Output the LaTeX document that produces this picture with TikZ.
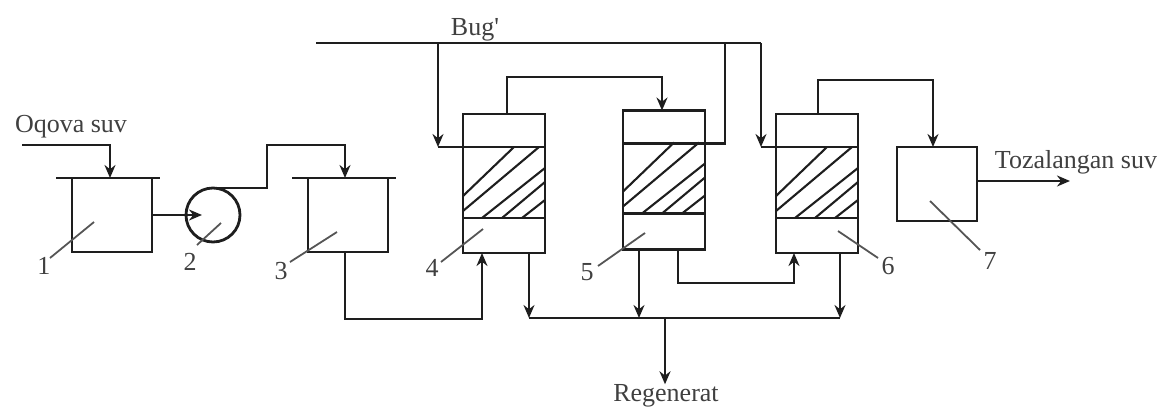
\documentclass[tikz,border=0pt]{standalone}
\usepackage{fontspec}
\setmainfont{Liberation Serif}
\usetikzlibrary{arrows.meta,positioning}
\definecolor{ink}{HTML}{1E1E1E}
\definecolor{soft}{HTML}{555555}
\tikzstyle{vessel} = [rectangle, minimum width=40pt, minimum height=37pt, inner sep=0pt, outer sep=0pt, draw=ink, line width=1.4pt]
\tikzstyle{pumpbody} = [circle, minimum size=27pt, inner sep=0pt, outer sep=0pt, draw=ink, line width=1.4pt]
\tikzstyle{section} = [rectangle, minimum width=41pt, inner sep=0pt, outer sep=0pt, draw=ink, line width=1.4pt]
\tikzstyle{pipe} = [draw=ink, line width=1.4pt]
\tikzstyle{arrow} = [pipe,-{Stealth[length=6.5pt,width=5.5pt]}]
\tikzstyle{hatching} = [draw=ink, line width=1.05pt]
\tikzstyle{leader} = [draw=soft, line width=.9pt]
\tikzstyle{caption} = [text=soft!75!black, inner sep=0pt, font=\fontsize{13}{15}\selectfont]

\begin{document}
\begin{tikzpicture}[x=.5pt,y=-.5pt]
    \useasboundingbox (0,0) rectangle (1163,408);

    \node (tank1) [vessel] at (112,215) {};
    \node (pump) [pumpbody, right=17pt of tank1] {};
    \node (tank3) [vessel, right=34pt of pump] {};
    \node (bedA) [section, minimum height=35.5pt, right=37.5pt of tank3, yshift=16.25pt] {};
    \node (topA) [section, minimum height=16.5pt, above=0pt of bedA] {};
    \node (baseA) [section, minimum height=17.5pt, below=0pt of bedA] {};
    \node (bedB) [section, minimum height=35pt, right=39pt of bedA, yshift=2pt] {};
    \node (topB) [section, minimum height=16.5pt, above=0pt of bedB] {};
    \node (baseB) [section, minimum height=18pt, below=0pt of bedB] {};
    \node (bedC) [section, minimum height=35.5pt, right=35.5pt of bedB, yshift=-2pt] {};
    \node (topC) [section, minimum height=16.5pt, above=0pt of bedC] {};
    \node (baseC) [section, minimum height=17.5pt, below=0pt of bedC] {};
    \node (tank7) [vessel, right=19.5pt of bedC, yshift=-.75pt] {};

    \node (wastewater) [caption] at (71,127) {Oqova suv};
    \node (steam) [caption] at (475,30) {Bug\textquotesingle};
    \node (treated) [caption] at (1076,162) {Tozalangan suv};
    \node (regenerate) [caption] at (666,396) {Regenerat};
    \node (num1) [caption] at (44,266) {1};
    \node (num2) [caption] at (190,262) {2};
    \node (num3) [caption] at (281,271) {3};
    \node (num4) [caption] at (432,268) {4};
    \node (num5) [caption] at (587,272) {5};
    \node (num6) [caption] at (888,266) {6};
    \node (num7) [caption] at (990,261) {7};

    \coordinate (feed) at (22,145);
    \coordinate (pumpin) at ([xshift=8pt]pump.west);
    \coordinate (riser) at (267,145);
    \coordinate (returnA) at (400,319);
    \coordinate (steamstart) at (316,43);
    \coordinate (steamA) at (438,43);
    \coordinate (steamB) at (725,43);
    \coordinate (steamC) at (761,43);
    \coordinate (kneeA) at (438,147);
    \coordinate (kneeC) at (761,147);
    \coordinate (linkAB) at (580,77);
    \coordinate (linkBC) at (740,283);
    \coordinate (linkC7) at (880,80);
    \coordinate (drainA) at (529,318);
    \coordinate (drainB) at (639,318);
    \coordinate (drainC) at (840,318);
    \coordinate (collect) at (665,318);
    \coordinate (product) at (1070,181);

    \foreach \col in {bedA,bedB,bedC}
      \foreach \xa/\ya/\xb/\yb in {0/22/51/71, 0/7/76/71, 19/0/82/50, 39/0/82/36, 59/0/82/18}
        \draw[hatching, shift={(\col.south west)}] (\xa,-\ya) -- (\xb,-\yb);

    \draw[pipe] ([xshift=-8pt]tank1.north west) -- ([xshift=4pt]tank1.north east);
    \draw[pipe] ([xshift=-8pt]tank3.north west) -- ([xshift=4pt]tank3.north east);

    \draw[arrow] (feed) -| ([xshift=-1pt]tank1.north);
    \draw[arrow] (tank1.east) -- (pumpin);
    \draw[arrow] (pump.north) -| (riser) -| ([xshift=-1.5pt]tank3.north);
    \draw[arrow] ([xshift=-1.5pt]tank3.south) |- (returnA) -| ([xshift=-11pt]baseA.south);
    \draw[pipe] (steamstart) -- (steamC);
    \draw[arrow] (steamA) -- (kneeA);
    \draw[pipe] (kneeA) -- (bedA.north west);
    \draw[pipe] (steamB) |- (bedB.north east);
    \draw[arrow] (steamC) -- (kneeC);
    \draw[pipe] (kneeC) -- (bedC.north west);
    \draw[arrow] ([xshift=1.5pt]topA.north) |- (linkAB) -| ([xshift=-1pt]topB.north);
    \draw[arrow] ([xshift=7pt]baseB.south) |- (linkBC) -| ([xshift=-11.5pt]baseC.south);
    \draw[arrow] ([xshift=.5pt]topC.north) |- (linkC7) -| ([xshift=-2pt]tank7.north);
    \draw[arrow] ([yshift=1.5pt]tank7.east) -- (product);
    \draw[arrow] ([xshift=12.5pt]baseA.south) -- (drainA);
    \draw[arrow] ([xshift=-12.5pt]baseB.south) -- (drainB);
    \draw[arrow] ([xshift=11.5pt]baseC.south) -- (drainC);
    \draw[pipe] (drainA) -- (drainC);
    \draw[arrow] (collect) -- (collect |- regenerate.north);

    \draw[leader] (num1) ++(6,-8) -- (94,222);
    \draw[leader] (num2) ++(7,-17) -- (221,223);
    \draw[leader] (num3) ++(9,-9) -- (337,232);
    \draw[leader] (num4) ++(9,-6) -- (483,229);
    \draw[leader] (num5) ++(11,-6) -- (645,233);
    \draw[leader] (num6) ++(-10,-8) -- (838,231);
    \draw[leader] (num7) ++(-10,-11) -- (930,201);
\end{tikzpicture}
\end{document}
